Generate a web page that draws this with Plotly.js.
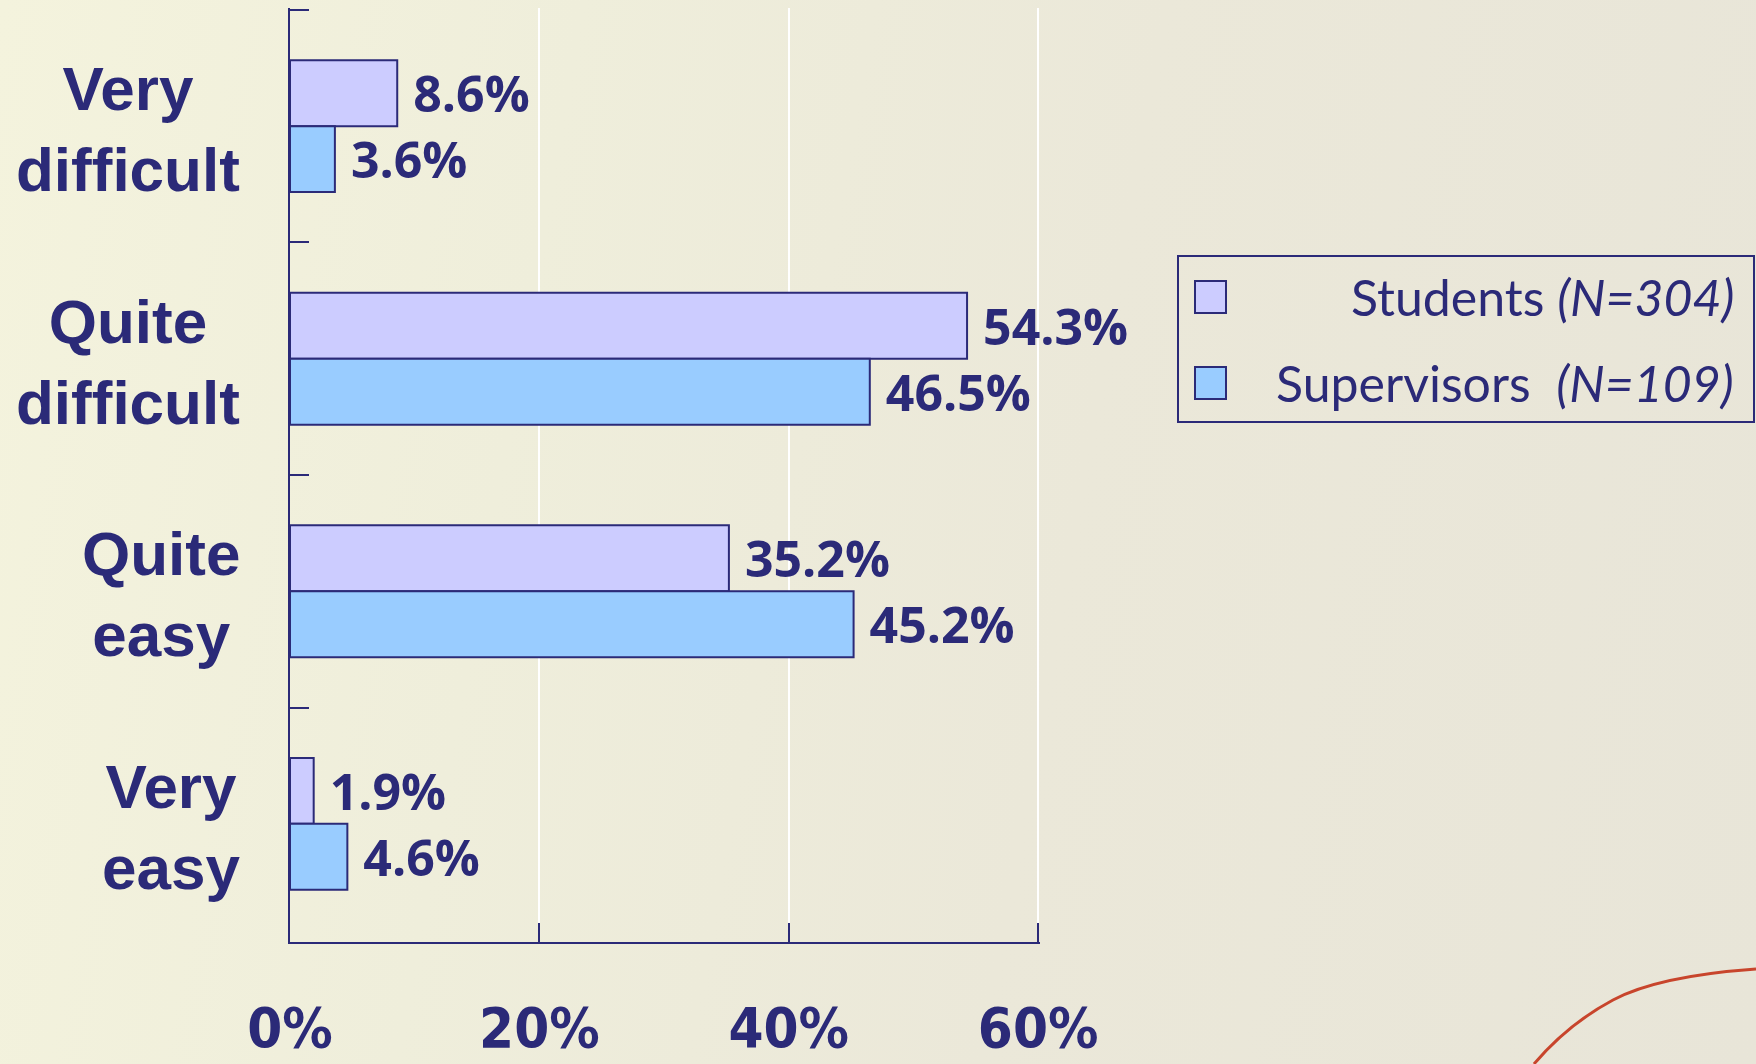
<!DOCTYPE html>
<html>
<head>
<meta charset="utf-8">
<script src="https://cdn.plot.ly/plotly-3.0.1.min.js"></script>
<style>
  html, body { margin: 0; padding: 0; width: 1756px; height: 1064px; overflow: hidden; }
  body { background: linear-gradient(100deg, #f4f3dd 0%, #efeedb 30%, #ebe8d9 60%, #e8e5d8 100%); }
  #chart { width: 1756px; height: 1064px; }
</style>
</head>
<body>
<div id="chart"></div>
<script>
// ---- data ----
const categories = ['Very difficult', 'Quite difficult', 'Quite easy', 'Very easy'];
const categoryLabels = ['Very<br>difficult', 'Quite<br>difficult', 'Quite<br>easy', 'Very<br>easy'];
const students = [8.6, 54.3, 35.2, 1.9];
const supervisors = [3.6, 46.5, 45.2, 4.6];
const tickValues = [0, 20, 40, 60];
const tickLabels = ['0%', '20%', '40%', '60%'];
const seriesNames = ['Students', 'Supervisors'];
const seriesNotes = ['(N=304)', '(N=109)'];

// ---- styles ----
const NAVY = '#2b2a78';
const COLORS = ['#ccccff', '#99ccff'];
const W = 1756, H = 1064;
const M = { l: 290, r: 716, t: 8, b: 122 };
const PW = W - M.l - M.r, PH = H - M.t - M.b;
const px = x => (x - M.l) / PW;          // pixel -> paper x
const py = y => (H - M.b - y) / PH;      // pixel -> paper y

const valueFont = { family: '"Open Sans", "DejaVu Sans", sans-serif', size: 50, color: NAVY, weight: 700 };

const traces = [students, supervisors].map((vals, i) => ({
  type: 'bar',
  orientation: 'h',
  name: seriesNames[i],
  y: categories,
  x: vals,
  marker: { color: COLORS[i], line: { color: NAVY, width: 2 } },
  text: vals.map(v => '\u00a0' + v.toFixed(1) + '%'),
  textposition: 'outside',
  textfont: valueFont,
  constraintext: 'none',
  cliponaxis: false,
  showlegend: false,
  hoverinfo: 'skip'
}));

const annotations = categories.map((c, i) => ({
  xref: 'paper', yref: 'y',
  x: px(242), y: c,
  xanchor: 'right', yanchor: 'middle',
  yshift: -3,
  align: 'center',
  text: categoryLabels[i],
  showarrow: false,
  font: { family: '"Liberation Sans", Arial, sans-serif', size: 62, color: NAVY, weight: 700 }
}));

// custom legend
const legendRows = [297, 383];
const legendFont = { family: 'Lato, "Noto Sans", sans-serif', size: 50, color: NAVY };
seriesNames.forEach((n, i) => {
  annotations.push({
    xref: 'paper', yref: 'paper',
    x: px(1736), y: py(legendRows[i]),
    xanchor: 'right', yanchor: 'middle',
    text: n + (i === 1 ? '\u00a0\u00a0' : '\u00a0') + '<i>' + seriesNotes[i] + '</i>',
    showarrow: false,
    font: legendFont
  });
});

const shapes = [
  { type: 'rect', xref: 'paper', yref: 'paper', x0: px(1178), x1: px(1754), y0: py(256), y1: py(422),
    line: { color: NAVY, width: 2 }, fillcolor: 'rgba(0,0,0,0)' }
];
legendRows.forEach((r, i) => {
  shapes.push({ type: 'rect', xref: 'paper', yref: 'paper',
    x0: px(1195), x1: px(1226), y0: py(r - 16), y1: py(r + 16),
    line: { color: NAVY, width: 2 }, fillcolor: COLORS[i] });
});
// decorative red curve bottom right
const curvePts = [[1534, 1064], [1568, 1024], [1613, 1000], [1680, 983], [1756, 969]];
shapes.push({
  type: 'path', xref: 'paper', yref: 'paper',
  path: 'M' + px(curvePts[0][0]) + ',' + py(curvePts[0][1]) +
        ' Q' + px(curvePts[1][0]) + ',' + py(curvePts[1][1]) + ' ' + px(curvePts[2][0]) + ',' + py(curvePts[2][1]) +
        ' T' + px(curvePts[4][0]) + ',' + py(curvePts[4][1]),
  line: { color: '#c8452c', width: 3 }
});

const layout = {
  width: W, height: H,
  margin: M,
  paper_bgcolor: 'rgba(0,0,0,0)',
  plot_bgcolor: 'rgba(0,0,0,0)',
  barmode: 'group',
  bargap: 0.433,
  bargroupgap: 0,
  showlegend: false,
  xaxis: {
    range: [0, 60.15],
    fixedrange: true,
    tickvals: tickValues,
    ticktext: tickLabels,
    ticks: 'inside', ticklen: 19, tickwidth: 2, tickcolor: NAVY,
    showline: true, linecolor: NAVY, linewidth: 2,
    showgrid: true, gridcolor: '#ffffff', gridwidth: 2,
    zeroline: false,
    ticklabelstandoff: 36,
    tickfont: { family: '"DejaVu Sans Condensed", "DejaVu Sans", sans-serif', size: 56, color: NAVY, weight: 700, stretch: 'condensed' }
  },
  yaxis: {
    type: 'category',
    categoryorder: 'array', categoryarray: categories,
    range: [3.508, -0.508],
    fixedrange: true,
    ticks: 'inside', ticklen: 19, tickwidth: 2, tickcolor: NAVY,
    tickson: 'boundaries',
    showticklabels: false,
    showline: true, linecolor: NAVY, linewidth: 2,
    showgrid: false, zeroline: false
  },
  annotations: annotations,
  shapes: shapes
};

Plotly.newPlot('chart', traces, layout, { displayModeBar: false, staticPlot: true });
</script>
</body>
</html>
